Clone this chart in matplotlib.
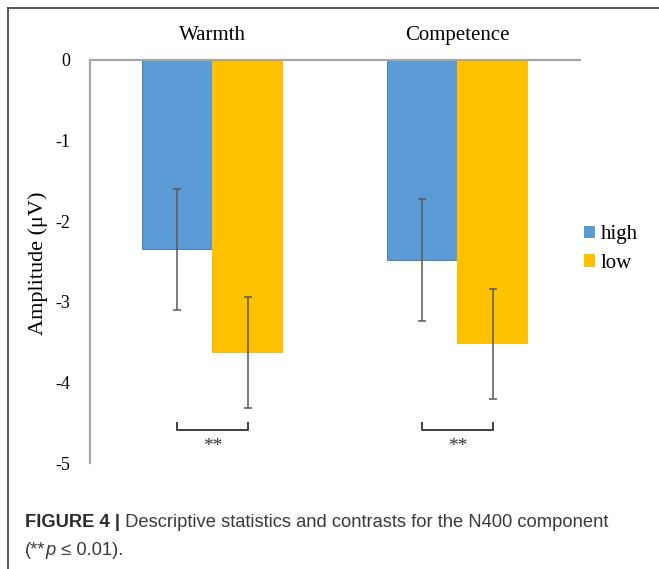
import numpy as np
import matplotlib.pyplot as plt
from matplotlib.lines import Line2D

# N400 mean amplitudes (µV) and error bar half-widths
dimensions = ["Warmth", "Competence"]
levels = ["high", "low"]
high_means = [-2.35, -2.48]
low_means = [-3.63, -3.52]
high_err = [0.755, 0.755]
low_err = [0.685, 0.685]
yticks = [0, -1, -2, -3, -4, -5]

W, H = 659, 569
fig = plt.figure(figsize=(W / 100, H / 100), dpi=100)
serif = "Liberation Serif"
sans = "Liberation Sans"

ax = fig.add_axes([90 / W, 1 - 463 / H, 490 / W, (463 - 60) / H])
x = np.arange(len(dimensions))
bw = 0.286
blue, gold = "#5B9BD5", "#FFC000"
ecol = "#595959"

ax.bar(x - bw / 2, high_means, bw, color=blue, edgecolor="#2E75B6", linewidth=0.6, label=levels[0])
ax.bar(x + bw / 2, low_means, bw, color=gold, linewidth=0, label=levels[1])
ax.errorbar(x - bw / 2, high_means, yerr=high_err, fmt="none", ecolor=ecol,
            elinewidth=1.1, capsize=3, capthick=1.1)
ax.errorbar(x + bw / 2, low_means, yerr=low_err, fmt="none", ecolor=ecol,
            elinewidth=1.1, capsize=3, capthick=1.1)

# significance brackets
for xi in x:
    x1, x2 = xi - bw / 2, xi + bw / 2
    ax.plot([x1, x1, x2, x2], [-4.50, -4.59, -4.59, -4.50], color="#404040", lw=1.4)
    ax.text(xi, -4.79, "**", ha="center", va="center", fontsize=14,
            family=serif, color="#333333")

ax.set_xlim(-0.5, 1.5)
ax.set_ylim(-5, 0)
ax.set_yticks(yticks)
ax.set_yticklabels([str(v) for v in yticks], family=serif, fontsize=13)
ax.xaxis.tick_top()
ax.set_xticks(x)
ax.set_xticklabels(dimensions, family=serif, fontsize=15)
ax.tick_params(axis="both", length=0)
ax.tick_params(axis="y", pad=14)
ax.tick_params(axis="x", pad=11)
for s in ["right", "bottom"]:
    ax.spines[s].set_visible(False)
for s in ["left", "top"]:
    ax.spines[s].set_color("#A6A6A6")
    ax.spines[s].set_linewidth(1.6)

fig.text(38 / W, 1 - 263 / H, "Amplitude (μV)", rotation=90, ha="center", va="center",
         family=serif, fontsize=16)

leg = ax.legend(loc="center left", bbox_to_anchor=(584 / W, 1 - 249 / H),
                bbox_transform=fig.transFigure, frameon=False,
                prop={"family": serif, "size": 15}, handlelength=0.55, handleheight=0.55,
                handletextpad=0.25, labelspacing=0.45, borderpad=0, borderaxespad=0)
for h in leg.legend_handles:
    h.set_edgecolor("none")

# outer frame
fig.add_artist(Line2D([8 / W, 1], [1 - 8 / H, 1 - 8 / H], color="#3C3C3C", lw=1.2))
fig.add_artist(Line2D([8 / W, 8 / W], [0, 1 - 8 / H], color="#3C3C3C", lw=1.2))

# caption
cap = dict(fontsize=13.2, family=sans, color="#3A3A3A")
t1 = fig.text(25 / W, 1 - 527 / H, "FIGURE 4 |", fontweight="bold", va="baseline",
              **{**cap, "color": "#2A2A2A"})
ax.annotate(" Descriptive statistics and contrasts for the N400 component",
            xy=(1, 0), xycoords=t1, ha="left", va="bottom", annotation_clip=False, **cap)
t2 = fig.text(25 / W, 1 - 555 / H, "(**", va="baseline", **cap)
t3 = ax.annotate("p", xy=(1, 0), xycoords=t2, ha="left", va="bottom",
                 style="italic", annotation_clip=False, **cap)
ax.annotate(" ≤ 0.01).", xy=(1, 0), xycoords=t3, ha="left", va="bottom",
            annotation_clip=False, **cap)

fig.savefig("out.png", dpi=100)
